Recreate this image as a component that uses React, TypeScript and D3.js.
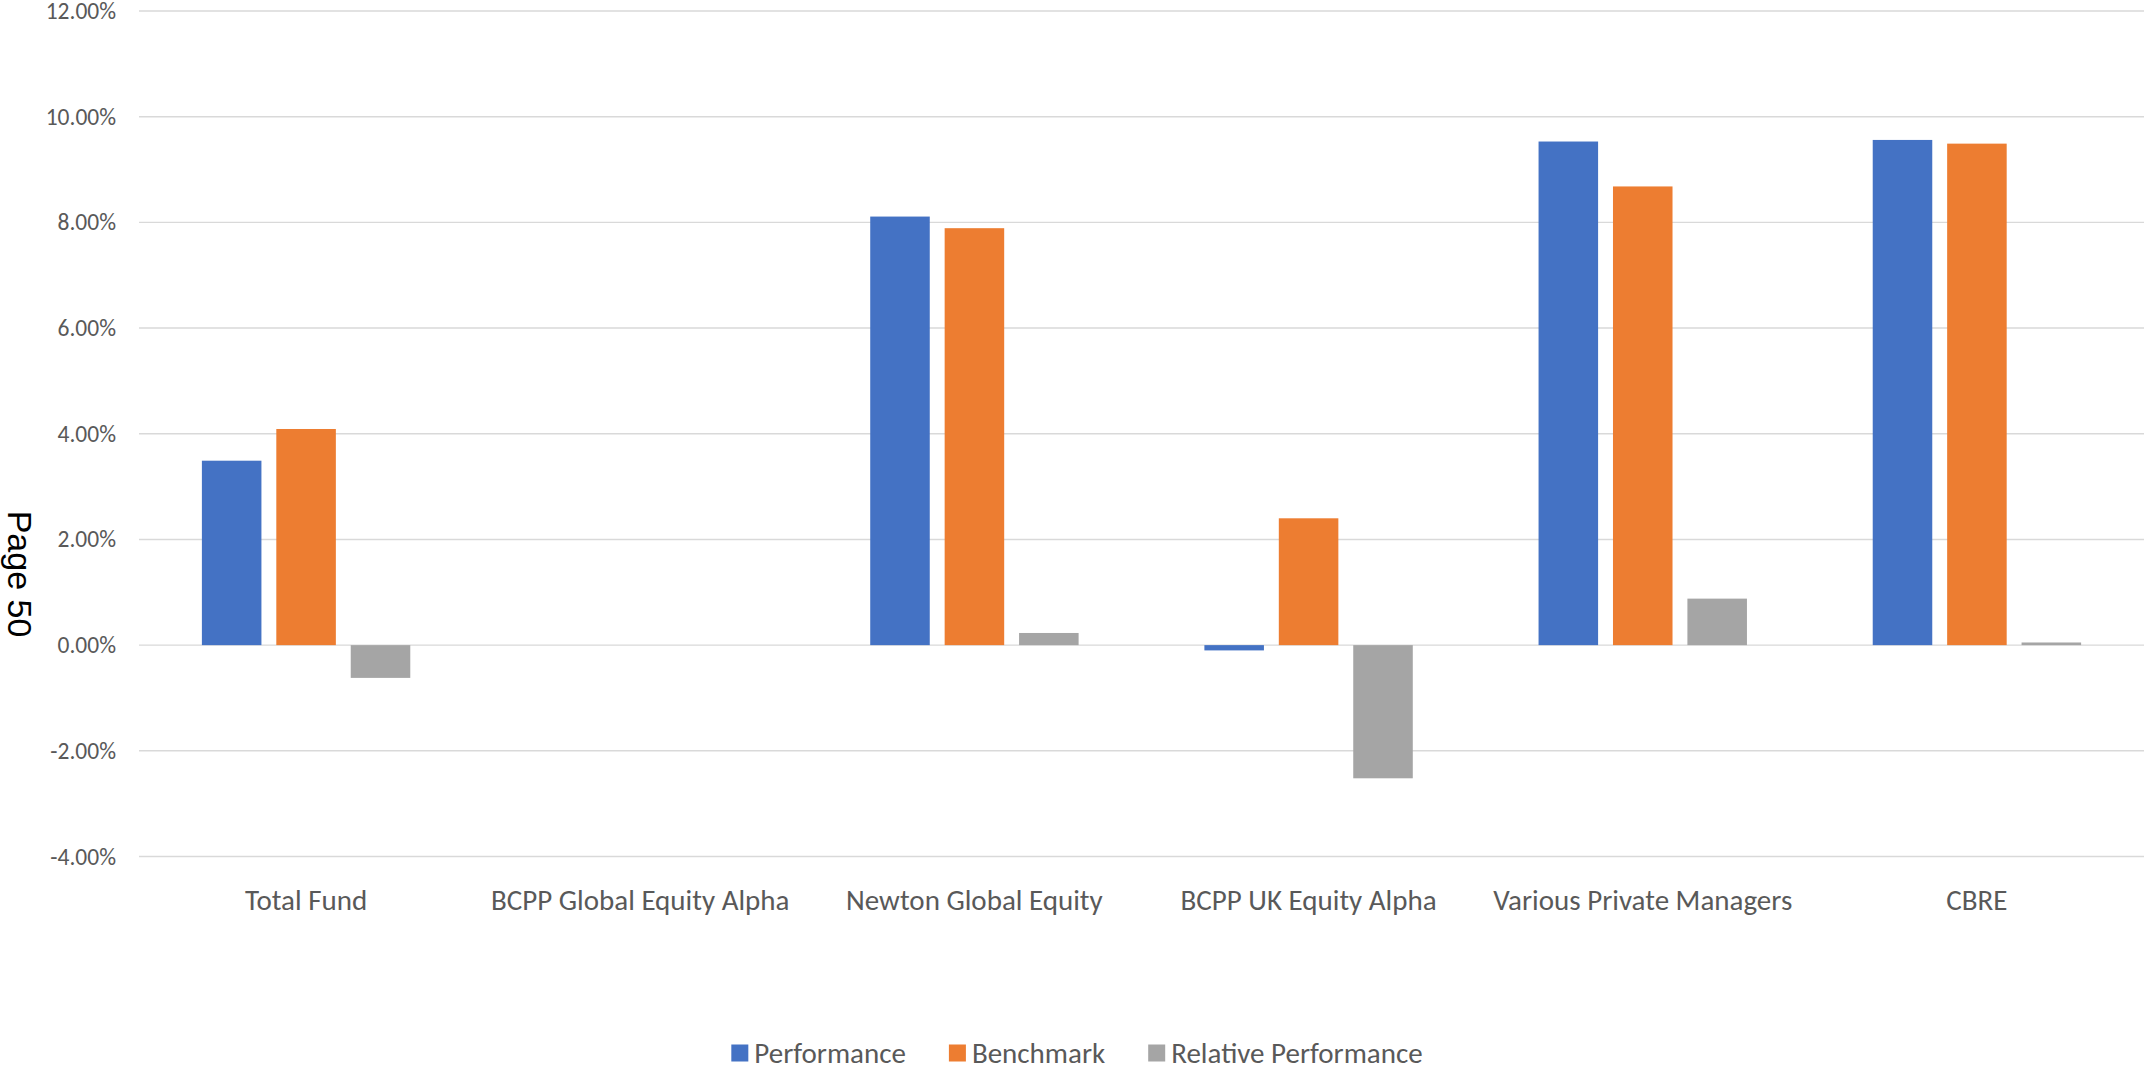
import React, { useEffect, useRef } from 'react';
import * as d3 from 'd3';

const categories = [
  'Total Fund',
  'BCPP Global Equity Alpha',
  'Newton Global Equity',
  'BCPP UK Equity Alpha',
  'Various Private Managers',
  'CBRE',
];
const performance = [3.49, null, 8.11, -0.1, 9.53, 9.56];
const benchmark = [4.09, null, 7.89, 2.4, 8.68, 9.49];
const relative = [-0.62, null, 0.23, -2.52, 0.88, 0.05];
const seriesNames = ['Performance', 'Benchmark', 'Relative Performance'];
const yTicks = [-4, -2, 0, 2, 4, 6, 8, 10, 12];

const colors = ['#4472C4', '#ED7D31', '#A5A5A5'];
const W = 2147;
const H = 1070;
const FONT = 'Carlito, Lato, sans-serif';

const App = () => {
  const ref = useRef<SVGSVGElement>(null);

  useEffect(() => {
    const svg = d3.select(ref.current);
    svg.selectAll('*').remove();

    const series = [performance, benchmark, relative];

    // scales
    const x0 = d3.scaleBand().domain(categories).range([139, 2144]).paddingInner(0).paddingOuter(0);
    const x1 = d3
      .scaleBand()
      .domain(seriesNames)
      .range([0, x0.bandwidth()])
      .paddingInner(0.2)
      .paddingOuter(0.845);
    const y = d3.scaleLinear().domain([-4, 12]).range([856.5, 11]);

    // gridlines
    svg
      .append('g')
      .selectAll('line')
      .data(yTicks)
      .enter()
      .append('line')
      .attr('x1', 139)
      .attr('x2', 2144)
      .attr('y1', (d) => y(d))
      .attr('y2', (d) => y(d))
      .attr('stroke', '#d9d9d9')
      .attr('stroke-width', 1.4);

    // y tick labels
    svg
      .append('g')
      .selectAll('text')
      .data(yTicks)
      .enter()
      .append('text')
      .attr('x', 116)
      .attr('y', (d) => y(d) + 8)
      .attr('text-anchor', 'end')
      .attr('font-family', FONT)
      .attr('font-size', 23.5)
      .attr('fill', '#595959')
      .text((d) => `${d.toFixed(2)}%`);

    // bars
    const bars: { cat: string; s: string; v: number; i: number }[] = [];
    categories.forEach((cat, ci) => {
      series.forEach((arr, si) => {
        const v = arr[ci];
        if (v !== null && v !== undefined) bars.push({ cat, s: seriesNames[si], v, i: si });
      });
    });

    svg
      .append('g')
      .selectAll('rect')
      .data(bars)
      .enter()
      .append('rect')
      .attr('x', (d) => (x0(d.cat) as number) + (x1(d.s) as number))
      .attr('y', (d) => y(Math.max(0, d.v)))
      .attr('width', x1.bandwidth())
      .attr('height', (d) => Math.abs(y(d.v) - y(0)))
      .attr('fill', (d) => colors[d.i]);

    // category labels
    svg
      .append('g')
      .selectAll('text')
      .data(categories)
      .enter()
      .append('text')
      .attr('x', (d) => (x0(d) as number) + x0.bandwidth() / 2)
      .attr('y', 910)
      .attr('text-anchor', 'middle')
      .attr('font-family', FONT)
      .attr('font-size', 29)
      .attr('fill', '#595959')
      .text((d) => d);

    // legend
    const legend = svg.append('g');
    let cx = 0;
    seriesNames.forEach((name, i) => {
      const g = legend.append('g').attr('transform', `translate(${cx},0)`);
      g.append('rect').attr('x', 0).attr('y', -8.5).attr('width', 17).attr('height', 17).attr('fill', colors[i]);
      const t = g
        .append('text')
        .attr('x', 23)
        .attr('y', 9.5)
        .attr('font-family', FONT)
        .attr('font-size', 29)
        .attr('fill', '#595959')
        .text(name);
      const len = (t.node() as SVGTextElement).getComputedTextLength();
      cx += 23 + len + 43;
    });
    const total = cx - 43;
    legend.attr('transform', `translate(${1077 - total / 2},1053)`);

    // side page label
    svg
      .append('text')
      .attr('transform', 'translate(8,574) rotate(90)')
      .attr('text-anchor', 'middle')
      .attr('font-family', 'Liberation Sans, Arial, sans-serif')
      .attr('font-size', 34)
      .attr('fill', '#000')
      .text('Page 50');
  }, []);

  return (
    <svg
      ref={ref}
      width={W}
      height={H}
      style={{ position: 'absolute', left: 0, top: 0, display: 'block', background: '#fff' }}
    />
  );
};

export default App;
